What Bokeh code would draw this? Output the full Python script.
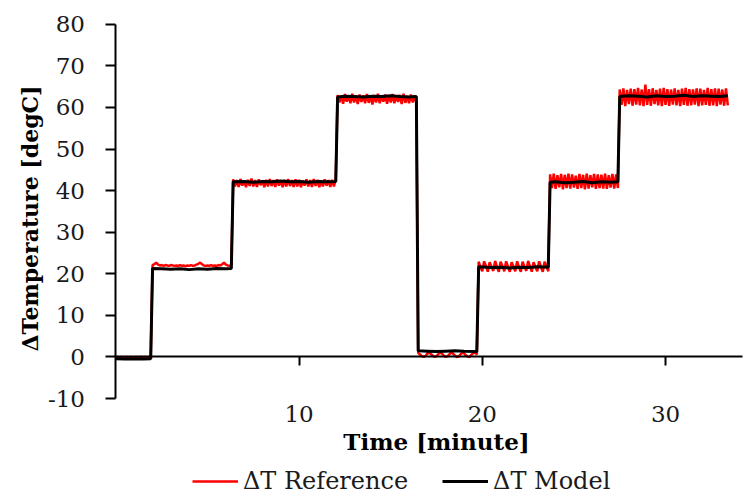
import numpy as np
from bokeh.plotting import figure
from bokeh.models import (LinearAxis, FixedTicker, ColumnDataSource, PrintfTickFormatter,
                          Legend, LegendItem, Label)
from bokeh.embed import file_html
from bokeh.resources import INLINE

# ---------------- data ----------------
SAMPLE_STEP = 0.1  # minutes between reference samples

ref_seg1 = [0.0, 0.0, -0.1, 0.0, -0.1, -0.1, 0.0, -0.1, 0.0, -0.1,
            -0.1, 0.0, -0.1, 0.0, 0.0, -0.1, 0.0, -0.1, 0.0, 0.0]
ref_seg2 = [22.1, 22.3, 22.7, 22.2, 22.0, 22.1, 21.9, 22.1, 22.0, 21.9,
            22.1, 22.0, 21.9, 22.0, 21.9, 22.1, 21.9, 22.0, 21.8, 22.0,
            21.9, 22.1, 21.9, 22.0, 22.2, 22.4, 22.7, 22.3, 22.0, 21.9,
            22.0, 21.9, 22.1, 21.9, 22.0, 21.9, 22.1, 22.0, 22.3, 22.7,
            22.2, 22.0, 21.9, 22.1]
ref_seg3 = [42.7, 41.0, 42.5, 40.9, 42.8, 41.2, 42.4, 40.8, 42.6, 41.1,
            42.9, 41.0, 42.5, 40.9, 42.7, 41.3, 42.4, 40.8, 42.6, 41.0,
            42.8, 41.1, 42.5, 40.9, 42.7, 41.2, 42.4, 40.8, 42.6, 41.0,
            42.8, 41.1, 42.5, 40.9, 42.7, 41.0, 42.6, 40.8, 42.4, 41.2,
            42.7, 41.0, 42.5, 40.9, 42.8, 41.1, 42.6, 40.8, 42.4, 41.0,
            42.7, 41.2, 42.5, 40.9, 42.6, 41.0, 42.7]
ref_seg4 = [63.0, 61.2, 62.8, 60.9, 63.2, 61.4, 62.9, 61.0, 63.3, 61.2,
            62.8, 60.8, 63.1, 61.3, 62.9, 61.0, 63.2, 61.1, 62.8, 60.7,
            63.0, 61.2, 63.3, 61.0, 62.9, 61.4, 63.1, 60.9, 62.8, 61.2,
            63.2, 61.0, 62.9, 61.3, 63.0, 60.8, 63.3, 61.1, 62.8, 61.0,
            63.1, 61.2, 62.9, 61.0]
ref_seg5 = [1.0, 0.6, 0.2, 0.0, 0.3, 0.8, 1.1, 0.7, 0.3, 0.0,
            0.2, 0.7, 1.0, 0.8, 0.3, 0.0, 0.2, 0.6, 1.1, 0.8,
            0.4, 0.0, 0.1, 0.6, 1.0, 0.9, 0.4, 0.1, 0.0, 0.5,
            0.9, 1.1, 0.6]
ref_seg6 = [22.9, 21.6, 20.6, 23.0, 21.8, 20.5, 22.8, 21.7, 20.7,
            23.1, 21.6, 20.5, 22.9, 21.9, 20.6, 23.0, 21.7, 20.5,
            22.8, 21.8, 20.6, 23.0, 21.6, 20.5, 22.9, 21.7, 20.7,
            23.1, 21.8, 20.5, 22.8, 21.6, 20.6, 23.0, 21.7, 20.5,
            22.9, 21.8, 20.6]
ref_seg7 = [43.9, 40.6, 44.1, 40.4, 43.7, 40.8, 44.0, 40.3, 43.8, 40.6,
            44.1, 40.5, 43.9, 40.7, 43.6, 40.4, 44.0, 40.6, 43.8, 40.3,
            44.1, 40.5, 43.7, 40.8, 44.0, 40.4, 43.9, 40.6, 43.8, 40.5,
            44.1, 40.4, 43.7, 40.7, 44.0, 40.5, 43.9, 40.6]
ref_seg8 = [64.3, 60.6, 64.6, 60.3, 64.2, 60.8, 64.5, 60.4, 64.4, 60.7,
            64.7, 60.5, 64.3, 60.3, 65.5, 60.6, 64.4, 60.4, 64.6, 60.8,
            64.2, 60.5, 64.5, 60.3, 64.7, 60.6, 64.4, 60.4, 64.3, 60.7,
            64.6, 60.5, 64.2, 60.3, 64.5, 60.6, 64.7, 60.4, 64.4, 60.5,
            64.3, 60.7, 64.6, 60.3, 64.5, 60.5, 64.2, 60.6, 64.7, 60.4,
            64.4, 60.5, 64.6, 60.3, 64.5, 60.7, 64.3, 60.4, 64.6, 60.5]

model_time = [0.0, 0.5, 1.0, 1.5, 1.9,
              2.0, 2.5, 3.0, 3.5, 4.0, 4.5, 5.0, 5.5, 6.0, 6.3,
              6.4, 7.0, 7.5, 8.0, 8.5, 9.0, 9.5, 10.0, 10.5, 11.0, 11.5, 12.0,
              12.1, 12.5, 13.0, 13.5, 14.0, 14.5, 15.0, 15.5, 16.0, 16.4,
              16.5, 17.0, 17.5, 18.0, 18.5, 19.0, 19.7,
              19.8, 20.5, 21.0, 21.5, 22.0, 22.5, 23.0, 23.6,
              23.7, 24.0, 24.5, 25.0, 25.5, 26.0, 26.5, 27.0, 27.4,
              27.5, 28.0, 28.5, 29.0, 29.5, 30.0, 30.5, 31.0, 31.5, 32.0, 32.5, 33.0, 33.4]
model_value = [-0.4, -0.5, -0.4, -0.5, -0.4,
               21.3, 21.2, 21.1, 21.2, 21.0, 21.2, 21.1, 21.3, 21.2, 21.3,
               42.1, 42.2, 42.0, 42.2, 42.1, 42.3, 42.1, 42.2, 42.0, 42.2, 42.1, 42.2,
               62.5, 62.7, 62.6, 62.5, 62.7, 62.6, 62.8, 62.6, 62.5, 62.6,
               1.5, 1.4, 1.3, 1.4, 1.5, 1.4, 1.3,
               21.7, 21.5, 21.6, 21.4, 21.6, 21.5, 21.7, 21.6,
               42.0, 42.1, 41.9, 42.0, 42.2, 41.9, 42.1, 42.0, 42.1,
               62.6, 62.8, 62.7, 62.5, 62.8, 62.6, 62.7, 62.9, 62.6, 62.8, 62.7, 62.6, 62.8]

x_ticks = [10, 20, 30]
y_ticks = [-10, 0, 10, 20, 30, 40, 50, 60, 70, 80]
X_MIN, X_MAX = 0, 34.2
Y_MIN, Y_MAX = -10, 80
series_labels = ["ΔT Reference", "ΔT Model"]
y_title = "ΔTemperature [degC]"
x_title = "Time [minute]"

ref_value = (ref_seg1 + ref_seg2 + ref_seg3 + ref_seg4 +
             ref_seg5 + ref_seg6 + ref_seg7 + ref_seg8)
ref_time = list(np.round(np.arange(len(ref_value)) * SAMPLE_STEP, 2))

ref_src = ColumnDataSource(dict(t=ref_time, v=ref_value))
mod_src = ColumnDataSource(dict(t=model_time, v=model_value))

FONT = "DejaVu Serif"

# The frame covers the whole canvas; axes are placed at fixed data positions inside it
p = figure(width=746, height=495, x_range=(-6.30, 34.42), y_range=(-33.3, 85.7),
           output_backend="svg", toolbar_location=None,
           x_axis_location=None, y_axis_location=None,
           min_border_left=0, min_border_right=0,
           min_border_top=0, min_border_bottom=0)
p.outline_line_color = None
p.xgrid.visible = False
p.ygrid.visible = False
p.background_fill_color = "white"
p.border_fill_color = "white"

# y axis at x = 0
yax = LinearAxis(ticker=FixedTicker(ticks=y_ticks), fixed_location=X_MIN,
                 formatter=PrintfTickFormatter(format="%d"), bounds=(Y_MIN, Y_MAX))
yax.axis_line_width = 2
yax.axis_line_color = "black"
yax.major_tick_line_width = 2
yax.major_tick_line_color = "black"
yax.major_tick_out = 10
yax.major_tick_in = 0
yax.minor_tick_line_color = None
yax.major_label_text_font = FONT
yax.major_label_text_font_size = "23px"
yax.major_label_text_color = "#1a1a1a"
yax.major_label_standoff = 21
p.add_layout(yax, "left")

# x tick labels drawn at the bottom of the y range (no line / ticks)
xlab = LinearAxis(ticker=FixedTicker(ticks=x_ticks), fixed_location=Y_MIN,
                  formatter=PrintfTickFormatter(format="%d"))
xlab.axis_line_color = None
xlab.major_tick_line_color = None
xlab.minor_tick_line_color = None
xlab.major_label_text_font = FONT
xlab.major_label_text_font_size = "23px"
xlab.major_label_text_color = "#1a1a1a"
xlab.major_label_standoff = 1
p.add_layout(xlab, "below")

# x axis line and ticks crossing at y = 0
xline = LinearAxis(ticker=FixedTicker(ticks=x_ticks), fixed_location=0,
                   bounds=(X_MIN, X_MAX))
xline.axis_line_width = 2
xline.axis_line_color = "black"
xline.major_tick_line_width = 2
xline.major_tick_line_color = "black"
xline.major_tick_out = 9
xline.major_tick_in = 0
xline.minor_tick_line_color = None
xline.major_label_text_font_size = "0px"
xline.major_label_text_alpha = 0
p.add_layout(xline, "below")

# axis titles
p.add_layout(Label(x=29, y=277, x_units="screen", y_units="screen",
                   text=y_title, angle=90, angle_units="deg",
                   text_align="center", text_baseline="middle",
                   text_font=FONT, text_font_style="bold",
                   text_font_size="22px", text_color="black"))
p.add_layout(Label(x=436, y=54, x_units="screen", y_units="screen",
                   text=x_title, text_align="center", text_baseline="middle",
                   text_font=FONT, text_font_style="bold",
                   text_font_size="23px", text_color="black"))

r_ref = p.line("t", "v", source=ref_src, line_color="#ff0000", line_width=2.5)
r_mod = p.line("t", "v", source=mod_src, line_color="black", line_width=3)

lg = Legend(items=[LegendItem(label=series_labels[0], renderers=[r_ref]),
                   LegendItem(label=series_labels[1], renderers=[r_mod])],
            orientation="horizontal", location=(192, 0),
            border_line_color=None, background_fill_alpha=0,
            padding=0, margin=0, spacing=34, glyph_width=46, label_standoff=5,
            label_text_font=FONT, label_text_font_size="24px",
            label_text_font_style="normal", label_text_color="#1a1a1a")
p.add_layout(lg, "center")

open("out.html", "w").write(file_html(p, INLINE))
